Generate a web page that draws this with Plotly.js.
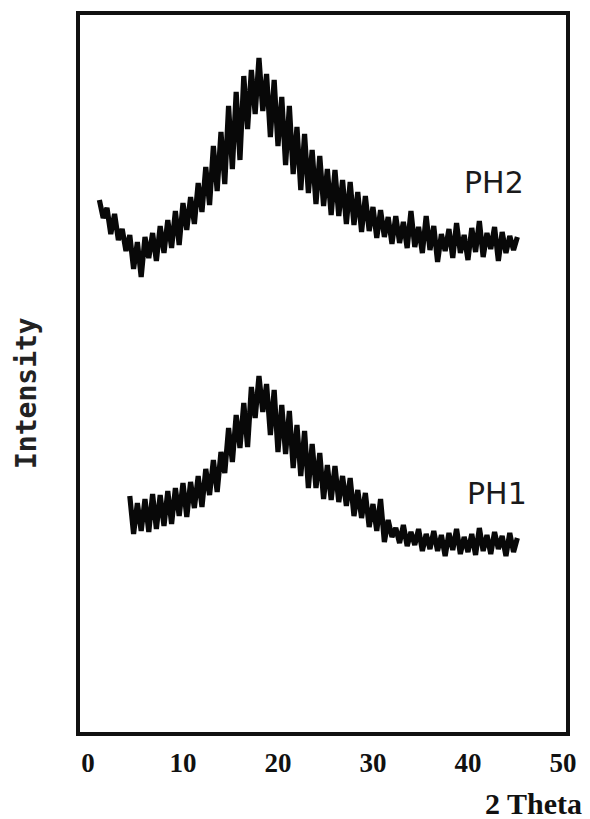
<!DOCTYPE html>
<html>
<head>
<meta charset="utf-8">
<script src="https://cdn.plot.ly/plotly-3.0.1.min.js"></script>
<style>
  html, body { margin: 0; padding: 0; background: #fff; }
  #chart { width: 590px; height: 819px; }
</style>
</head>
<body>
<div id="chart"></div>
<script>
// 2θ scan positions (degrees)
const twoTheta = [1.2,1.6,2.0,2.4,2.8,3.2,3.6,4.0,4.4,4.8,5.2,5.6,6.0,6.4,6.8,7.2,7.6,8.0,8.4,8.8,9.2,9.6,10.0,10.4,10.8,11.2,11.6,12.0,12.4,12.8,13.2,13.6,14.0,14.4,14.8,15.2,15.6,16.0,16.4,16.8,17.2,17.6,18.0,18.4,18.8,19.2,19.6,20.0,20.4,20.8,21.2,21.6,22.0,22.4,22.8,23.2,23.6,24.0,24.4,24.8,25.2,25.6,26.0,26.4,26.8,27.2,27.6,28.0,28.4,28.8,29.2,29.6,30.0,30.4,30.8,31.2,31.6,32.0,32.4,32.8,33.2,33.6,34.0,34.4,34.8,35.2,35.6,36.0,36.4,36.8,37.2,37.6,38.0,38.4,38.8,39.2,39.6,40.0,40.4,40.8,41.2,41.6,42.0,42.4,42.8,43.2,43.6,44.0,44.4,44.8,45.2];

// Intensity (arbitrary units), PH2 sample
const ph2 = [532,514,524,498,518,492,503,481,497,463,490,455,495,474,499,471,506,479,512,484,521,487,529,502,535,508,549,520,565,527,586,541,600,548,626,563,640,572,656,603,662,618,674,621,658,595,652,586,635,567,626,558,605,542,598,539,582,528,576,526,563,517,562,516,552,508,550,507,540,500,536,501,525,494,522,495,515,488,516,489,510,484,521,485,505,479,516,482,506,470,498,481,503,474,509,479,497,472,504,480,511,475,499,483,505,471,500,479,496,482,495];

// Intensity (arbitrary units), PH1 sample (scan starts at 4.4°)
const ph1Start = 4.4;
const ph1 = [236,198,229,201,233,200,238,203,237,206,241,208,244,216,249,215,250,224,256,225,263,237,272,240,280,259,304,270,317,284,329,285,345,314,356,320,348,297,342,280,327,278,321,264,307,256,301,244,288,244,279,233,267,232,266,230,256,226,254,216,242,214,239,205,228,201,233,190,212,195,204,189,207,186,200,187,203,181,198,183,201,181,197,176,199,182,203,178,195,180,198,177,204,181,197,178,200,183,196,176,199,180,194];

const xTicks = [0, 10, 20, 30, 40, 50];
const seriesLabels = ['PH2', 'PH1'];

const ph1X = twoTheta.slice(twoTheta.indexOf(ph1Start));

const lineStyle = { color: '#080808', width: 5.2 };
const traces = [
  { x: twoTheta, y: ph2, mode: 'lines', line: lineStyle, hoverinfo: 'skip', showlegend: false, name: seriesLabels[0] },
  { x: ph1X, y: ph1, mode: 'lines', line: lineStyle, hoverinfo: 'skip', showlegend: false, name: seriesLabels[1] }
];

const layout = {
  width: 590, height: 819,
  margin: { l: 80, r: 24, t: 15, b: 87 },
  paper_bgcolor: '#fff', plot_bgcolor: '#fff',
  showlegend: false,
  xaxis: {
    range: [-0.84, 50.32],
    tickvals: xTicks,
    ticktext: xTicks.map(String),
    ticks: 'outside', ticklen: 4, tickcolor: 'rgba(0,0,0,0)',
    showgrid: false, zeroline: false,
    showline: true, mirror: true, linewidth: 4, linecolor: '#111',
    tickfont: { family: 'Liberation Serif, serif', size: 27, color: '#111', weight: 700 }
  },
  yaxis: {
    range: [0, 717],
    showticklabels: false, ticks: '',
    showgrid: false, zeroline: false,
    showline: true, mirror: true, linewidth: 4, linecolor: '#111'
  },
  annotations: [
    { text: 'Intensity', xref: 'paper', yref: 'paper', x: (27 - 80) / 486, y: (732 - 393) / 717,
      xanchor: 'center', yanchor: 'middle', textangle: -90, showarrow: false,
      font: { family: 'DejaVu Sans Mono, monospace', size: 28, color: '#222', weight: 600 } },
    { text: '2 Theta', xref: 'paper', yref: 'paper', x: (533 - 80) / 486, y: (732 - 803) / 717,
      xanchor: 'center', yanchor: 'middle', showarrow: false,
      font: { family: 'Liberation Serif, serif', size: 30, color: '#111', weight: 700 } },
    { text: seriesLabels[0], xref: 'paper', yref: 'paper', x: (494 - 80) / 486, y: (732 - 183) / 717,
      xanchor: 'center', yanchor: 'middle', showarrow: false,
      font: { family: 'DejaVu Sans, sans-serif', size: 30, color: '#1a1a1a', weight: 500 } },
    { text: seriesLabels[1], xref: 'paper', yref: 'paper', x: (497 - 80) / 486, y: (732 - 493) / 717,
      xanchor: 'center', yanchor: 'middle', showarrow: false,
      font: { family: 'DejaVu Sans, sans-serif', size: 30, color: '#1a1a1a', weight: 500 } }
  ]
};

Plotly.newPlot('chart', traces, layout, { staticPlot: true, displayModeBar: false });
</script>
</body>
</html>
